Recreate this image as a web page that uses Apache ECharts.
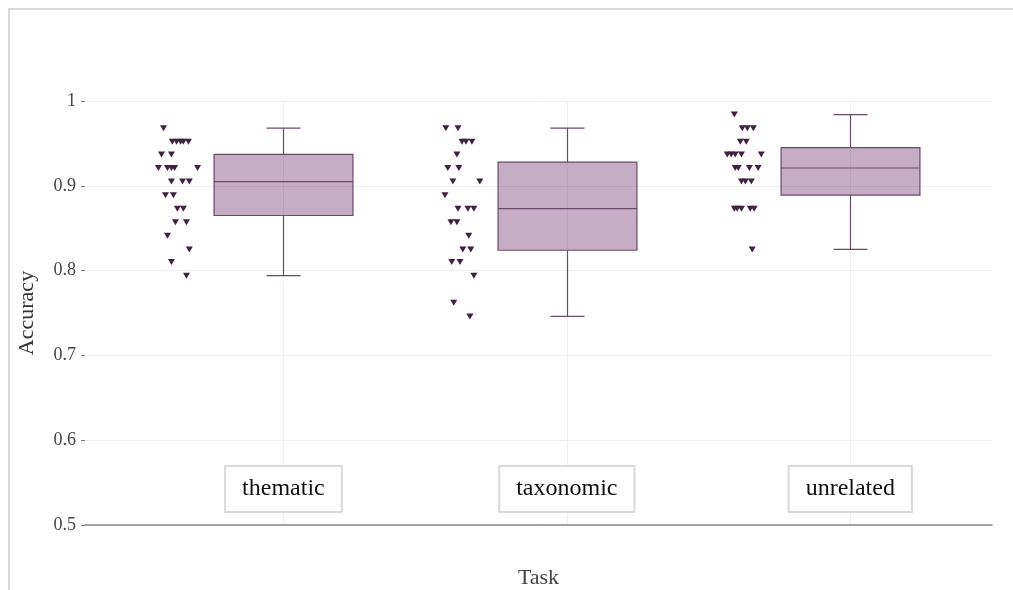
<!DOCTYPE html>
<html><head><meta charset="utf-8">
<script src="https://cdn.jsdelivr.net/npm/echarts@6/dist/echarts.min.js"></script>
<style>html,body{margin:0;padding:0;background:#fff}#c{width:1013px;height:590px}</style>
</head><body><div id="c"></div>
<script>
// ---- data ----
const categories = ['thematic', 'taxonomic', 'unrelated'];
const boxMin    = [0.794, 0.746, 0.825];
const boxQ1     = [0.865, 0.824, 0.889];
const boxMedian = [0.905, 0.873, 0.921];
const boxQ3     = [0.937, 0.928, 0.945];
const boxMax    = [0.968, 0.968, 0.984];
const yTicks = [0.5, 0.6, 0.7, 0.8, 0.9, 1];

const thematicAcc = [0.968, 0.952, 0.952, 0.952, 0.952, 0.952, 0.937, 0.937, 0.921, 0.921, 0.921, 0.921, 0.921,
  0.905, 0.905, 0.905, 0.889, 0.889, 0.873, 0.873, 0.857, 0.857, 0.841, 0.825, 0.810, 0.794];
const thematicJitter = [-0.423, -0.392, -0.377, -0.363, -0.353, -0.335, -0.430, -0.395, -0.441, -0.409, -0.395, -0.384, -0.303,
  -0.395, -0.356, -0.332, -0.416, -0.388, -0.374, -0.353, -0.381, -0.342, -0.409, -0.332, -0.395, -0.342];

const taxonomicAcc = [0.968, 0.968, 0.952, 0.952, 0.952, 0.937, 0.921, 0.921, 0.905, 0.905, 0.889, 0.873, 0.873, 0.873,
  0.857, 0.857, 0.841, 0.825, 0.825, 0.810, 0.810, 0.794, 0.762, 0.746];
const taxonomicJitter = [-0.427, -0.384, -0.370, -0.356, -0.335, -0.388, -0.420, -0.381, -0.402, -0.307, -0.430, -0.384, -0.349, -0.328,
  -0.409, -0.388, -0.346, -0.367, -0.339, -0.406, -0.377, -0.328, -0.399, -0.342];

const unrelatedAcc = [0.984, 0.968, 0.968, 0.968, 0.952, 0.952, 0.937, 0.937, 0.937, 0.937, 0.937, 0.921, 0.921, 0.921, 0.921,
  0.905, 0.905, 0.905, 0.873, 0.873, 0.873, 0.873, 0.873, 0.825];
const unrelatedJitter = [-0.409, -0.381, -0.363, -0.342, -0.388, -0.367, -0.434, -0.420, -0.406, -0.384, -0.314, -0.406, -0.395, -0.356, -0.325,
  -0.384, -0.370, -0.349, -0.409, -0.399, -0.384, -0.353, -0.339, -0.346];

// ---- build ----
const groupAcc = [thematicAcc, taxonomicAcc, unrelatedAcc];
const groupJitter = [thematicJitter, taxonomicJitter, unrelatedJitter];
const pointData = [];
groupAcc.forEach((acc, g) => acc.forEach((v, i) => pointData.push([g + groupJitter[g][i], v])));
const boxData = categories.map((c, i) => [i, boxMin[i], boxQ1[i], boxMedian[i], boxQ3[i], boxMax[i]]);

const SERIF = '"Liberation Serif", "DejaVu Serif", serif';
const BOX_W = 0.49, CAP_W = 0.12;
const lineCol = '#6a4a6b';

const chart = echarts.init(document.getElementById('c'), null, { renderer: 'canvas' });
chart.setOption({
  animation: false,
  backgroundColor: '#fff',
  graphic: [{
    type: 'polyline', silent: true,
    shape: { points: [[9, 590], [9, 9], [1013, 9]] },
    style: { stroke: '#d9d9d9', lineWidth: 2, fill: null }
  }],
  grid: { left: 85, right: 21, top: 101, bottom: 65, outerBoundsMode: 'none', containLabel: false },
  xAxis: {
    type: 'value', min: -0.7, max: 2.5,
    name: 'Task', nameLocation: 'middle', nameGap: 42,
    nameTextStyle: { fontFamily: SERIF, fontSize: 22, color: '#444' },
    axisLine: { show: true, onZero: false, lineStyle: { color: '#888', width: 1.5 } },
    axisTick: { show: false, customValues: [0, 1, 2] },
    splitLine: { show: true, lineStyle: { color: '#efefef', width: 1 } },
    axisLabel: {
      customValues: [0, 1, 2], inside: true, margin: 14,
      formatter: v => categories[Math.round(v)],
      fontFamily: SERIF, fontSize: 24, color: '#111',
      backgroundColor: '#fff', borderColor: '#dadada', borderWidth: 2,
      padding: [10, 16, 10, 16]
    }
  },
  yAxis: {
    type: 'value', min: 0.5, max: 1, interval: 0.1,
    name: 'Accuracy', nameLocation: 'middle', nameGap: 47,
    nameTextStyle: { fontFamily: SERIF, fontSize: 22, color: '#333' },
    axisLine: { show: false, onZero: false },
    axisTick: { show: true, length: 4, lineStyle: { color: '#777' } },
    axisLabel: { margin: 9, fontFamily: SERIF, fontSize: 18, color: '#444',
      formatter: v => String(+v.toFixed(2)) },
    splitLine: { show: true, lineStyle: { color: '#efefef', width: 1 } }
  },
  series: [{
    type: 'custom',
    data: boxData,
    z: 3,
    renderItem: function (params, api) {
      const x = api.value(0);
      const pMin = api.coord([x, api.value(1)]);
      const pQ1 = api.coord([x, api.value(2)]);
      const pMed = api.coord([x, api.value(3)]);
      const pQ3 = api.coord([x, api.value(4)]);
      const pMax = api.coord([x, api.value(5)]);
      const hw = api.size([BOX_W, 0])[0] / 2;
      const cw = api.size([CAP_W, 0])[0] / 2;
      const cx = Math.round(pMed[0]) + 0.5;
      const ls = { stroke: lineCol, lineWidth: 1.2, fill: null };
      return {
        type: 'group',
        children: [
          { type: 'line', shape: { x1: cx, y1: pMax[1], x2: cx, y2: pQ3[1] }, style: ls },
          { type: 'line', shape: { x1: cx, y1: pQ1[1], x2: cx, y2: pMin[1] }, style: ls },
          { type: 'line', shape: { x1: cx - cw, y1: pMax[1], x2: cx + cw, y2: pMax[1] }, style: ls },
          { type: 'line', shape: { x1: cx - cw, y1: pMin[1], x2: cx + cw, y2: pMin[1] }, style: ls },
          { type: 'rect', shape: { x: cx - hw, y: pQ3[1], width: 2 * hw, height: pQ1[1] - pQ3[1] },
            style: { fill: 'rgba(110,50,110,0.4)', stroke: lineCol, lineWidth: 1.2 } },
          { type: 'line', shape: { x1: cx - hw, y1: pMed[1], x2: cx + hw, y2: pMed[1] }, style: ls }
        ]
      };
    }
  }, {
    type: 'scatter',
    data: pointData,
    symbol: 'triangle', symbolRotate: 180, symbolSize: [7, 6],
    itemStyle: { color: '#3f2141', opacity: 1 },
    z: 4
  }]
});
</script></body></html>
